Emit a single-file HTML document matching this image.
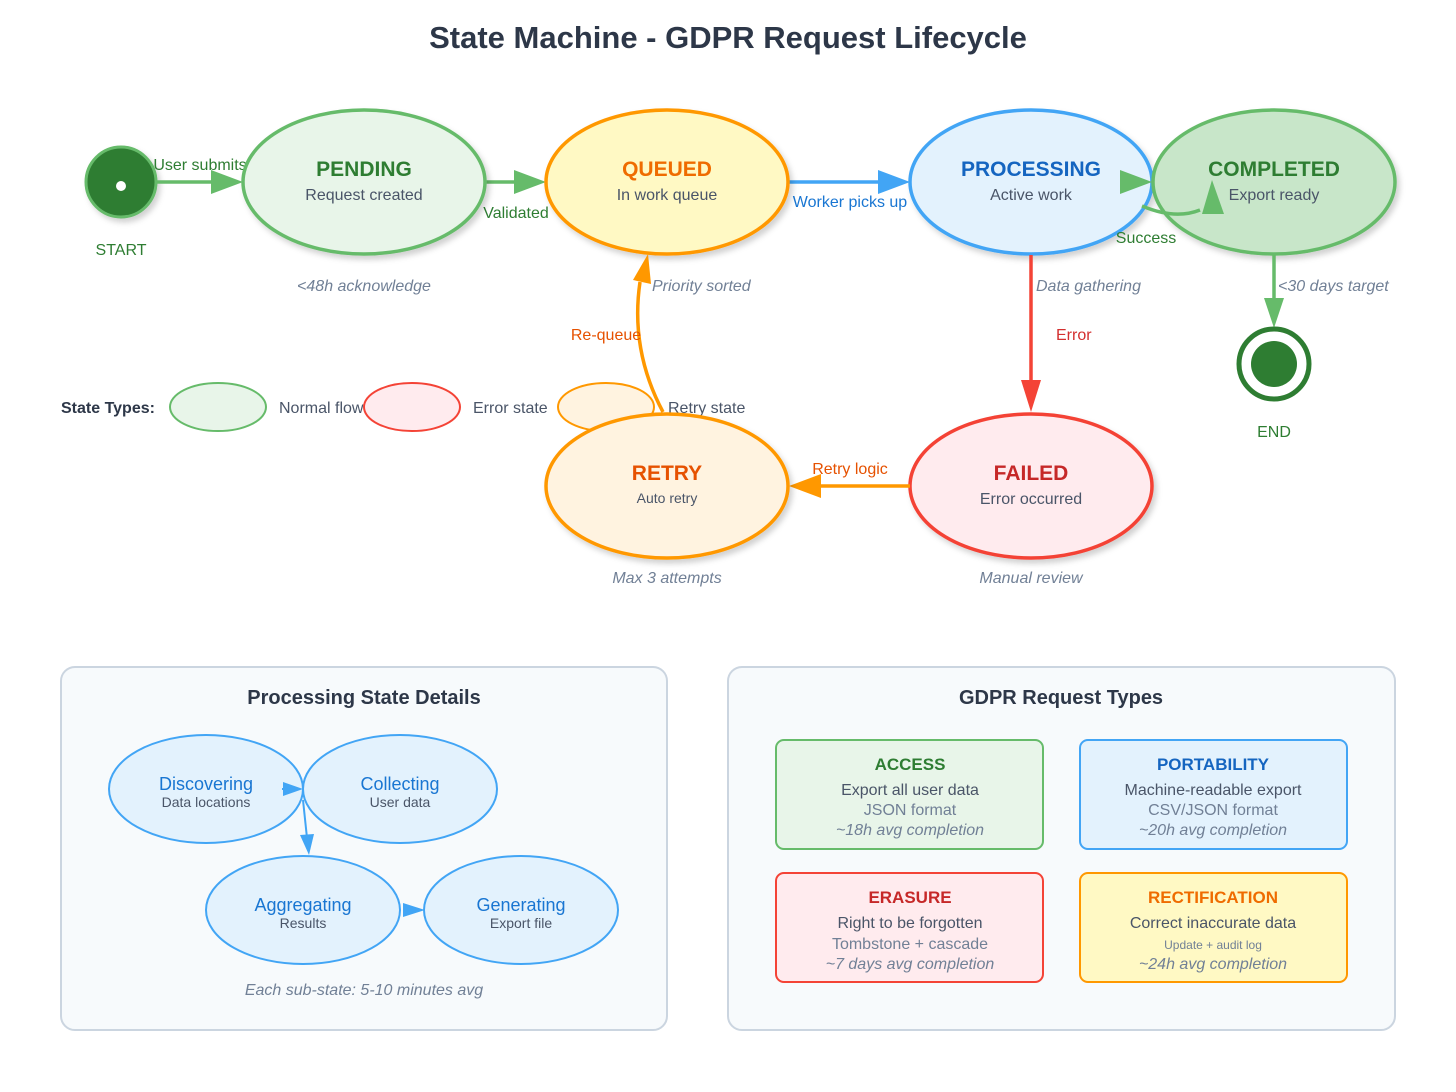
<!DOCTYPE html>
<html><head><meta charset="utf-8"><style>
html,body{margin:0;padding:0;background:#fff}
svg{display:block}
text{font-family:"Liberation Sans",sans-serif}
</style></head><body>
<svg width="1456" height="1092" viewBox="0 0 1456 1092" xmlns="http://www.w3.org/2000/svg">
<defs>
<filter id="sh" x="-20%" y="-20%" width="150%" height="150%"><feDropShadow dx="3" dy="4" stdDeviation="3" flood-color="#000" flood-opacity="0.18"/></filter>
</defs>
<text x="728" y="48" text-anchor="middle" font-size="31" font-weight="bold" fill="#2d3748">State Machine - GDPR Request Lifecycle</text>

<!-- legend -->
<text x="61" y="413" font-size="16" font-weight="bold" fill="#2d3748">State Types:</text>
<ellipse cx="218" cy="407" rx="48" ry="24" fill="#e8f5e9" stroke="#66bb6a" stroke-width="2"/>
<text x="279" y="413" font-size="16" fill="#4a5568">Normal flow</text>
<ellipse cx="412" cy="407" rx="48" ry="24" fill="#ffebee" stroke="#f44336" stroke-width="2"/>
<text x="473" y="413" font-size="16" fill="#4a5568">Error state</text>
<ellipse cx="606" cy="407" rx="48" ry="24" fill="#fff3e0" stroke="#ff9800" stroke-width="2"/>
<text x="668" y="413" font-size="16" fill="#4a5568">Retry state</text>

<!-- start -->
<circle cx="121" cy="182" r="35" fill="#2e7d32" stroke="#66bb6a" stroke-width="3" filter="url(#sh)"/>
<circle cx="121" cy="186" r="5" fill="#fff"/>
<text x="121" y="255" text-anchor="middle" font-size="16" fill="#2e7d32">START</text>
<line x1="157" y1="182" x2="215" y2="182" stroke="#66bb6a" stroke-width="3.5"/>
<polygon points="243,182 211,170 211,194" fill="#66bb6a"/>
<text x="200" y="170" text-anchor="middle" font-size="16" fill="#2e7d32">User submits</text>

<!-- edges top -->
<line x1="485" y1="182" x2="518" y2="182" stroke="#66bb6a" stroke-width="3.5"/>
<polygon points="546,182 514,170 514,194" fill="#66bb6a"/>
<text x="516" y="218" text-anchor="middle" font-size="16" fill="#2e7d32">Validated</text>
<line x1="788" y1="182" x2="882" y2="182" stroke="#42a5f5" stroke-width="3.5"/>
<polygon points="910,182 878,170 878,194" fill="#42a5f5"/>
<text x="850" y="207" text-anchor="middle" font-size="16" fill="#1976d2">Worker picks up</text>

<!-- nodes -->
<ellipse cx="364" cy="182" rx="121" ry="72" fill="#e8f5e9" stroke="#66bb6a" stroke-width="3.5" filter="url(#sh)"/>
<text x="364" y="176" text-anchor="middle" font-size="21" font-weight="bold" fill="#2e7d32">PENDING</text>
<text x="364" y="200" text-anchor="middle" font-size="16" fill="#4a5568">Request created</text>
<ellipse cx="667" cy="182" rx="121" ry="72" fill="#fff9c4" stroke="#ff9800" stroke-width="3.5" filter="url(#sh)"/>
<text x="667" y="176" text-anchor="middle" font-size="21" font-weight="bold" fill="#ef6c00">QUEUED</text>
<text x="667" y="200" text-anchor="middle" font-size="16" fill="#4a5568">In work queue</text>
<ellipse cx="1031" cy="182" rx="121" ry="72" fill="#e3f2fd" stroke="#42a5f5" stroke-width="3.5" filter="url(#sh)"/>
<text x="1031" y="176" text-anchor="middle" font-size="21" font-weight="bold" fill="#1565c0">PROCESSING</text>
<text x="1031" y="200" text-anchor="middle" font-size="16" fill="#4a5568">Active work</text>
<ellipse cx="1274" cy="182" rx="121" ry="72" fill="#c8e6c9" stroke="#66bb6a" stroke-width="3.5" filter="url(#sh)"/>
<text x="1274" y="176" text-anchor="middle" font-size="21" font-weight="bold" fill="#2e7d32">COMPLETED</text>
<text x="1274" y="200" text-anchor="middle" font-size="16" fill="#4a5568">Export ready</text>

<polygon points="1152,182 1120,170 1120,194" fill="#66bb6a"/>
<path d="M1142,206 Q1175,220 1200,210" fill="none" stroke="#66bb6a" stroke-width="3.5"/>
<polygon points="1202,214 1212,180 1224,214" fill="#66bb6a"/>
<text x="1146" y="243" text-anchor="middle" font-size="16" fill="#2e7d32">Success</text>

<line x1="1274" y1="255" x2="1274" y2="305" stroke="#66bb6a" stroke-width="3.5"/>
<polygon points="1274,328 1264,298 1284,298" fill="#66bb6a"/>
<circle cx="1274" cy="364" r="35" fill="#fff" stroke="#2e7d32" stroke-width="5"/>
<circle cx="1274" cy="364" r="23" fill="#2e7d32"/>
<text x="1274" y="437" text-anchor="middle" font-size="16" fill="#2e7d32">END</text>

<g font-size="16" font-style="italic" fill="#718096">
<text x="364" y="291" text-anchor="middle">&lt;48h acknowledge</text>
<text x="652" y="291">Priority sorted</text>
<text x="1036" y="291">Data gathering</text>
<text x="1278" y="291">&lt;30 days target</text>
<text x="667" y="583" text-anchor="middle">Max 3 attempts</text>
<text x="1031" y="583" text-anchor="middle">Manual review</text>
</g>

<line x1="1031" y1="255" x2="1031" y2="385" stroke="#f44336" stroke-width="3.5"/>
<polygon points="1031,412 1021,380 1041,380" fill="#f44336"/>
<text x="1056" y="340" font-size="16" fill="#d32f2f">Error</text>

<ellipse cx="1031" cy="486" rx="121" ry="72" fill="#ffebee" stroke="#f44336" stroke-width="3.5" filter="url(#sh)"/>
<text x="1031" y="480" text-anchor="middle" font-size="21" font-weight="bold" fill="#c62828">FAILED</text>
<text x="1031" y="504" text-anchor="middle" font-size="16" fill="#4a5568">Error occurred</text>

<line x1="910" y1="486" x2="815" y2="486" stroke="#ff9800" stroke-width="3.5"/>
<polygon points="789,486 821,474 821,498" fill="#ff9800"/>
<text x="850" y="474" text-anchor="middle" font-size="16" fill="#e65100">Retry logic</text>

<ellipse cx="667" cy="486" rx="121" ry="72" fill="#fff3e0" stroke="#ff9800" stroke-width="3.5" filter="url(#sh)"/>
<text x="667" y="480" text-anchor="middle" font-size="21" font-weight="bold" fill="#e65100">RETRY</text>
<text x="667" y="503" text-anchor="middle" font-size="14" fill="#4a5568">Auto retry</text>

<path d="M663,412 Q630,350 640,282" fill="none" stroke="#ff9800" stroke-width="3.5"/>
<polygon points="648,254 633,280 651,284" fill="#ff9800"/>
<text x="606" y="340" text-anchor="middle" font-size="16" fill="#e65100">Re-queue</text>

<!-- left panel -->
<rect x="61" y="667" width="606" height="363" rx="14" fill="#f7fafc" stroke="#cbd5e0" stroke-width="2"/>
<text x="364" y="704" text-anchor="middle" font-size="20" font-weight="bold" fill="#2d3748">Processing State Details</text>
<g fill="#e3f2fd" stroke="#42a5f5" stroke-width="2">
<ellipse cx="206" cy="789" rx="97" ry="54"/>
<ellipse cx="400" cy="789" rx="97" ry="54"/>
<ellipse cx="303" cy="910" rx="97" ry="54"/>
<ellipse cx="521" cy="910" rx="97" ry="54"/>
</g>
<line x1="282" y1="789" x2="290" y2="789" stroke="#42a5f5" stroke-width="2"/>
<polygon points="303,789 283,782 283,796" fill="#42a5f5"/>
<line x1="303" y1="800" x2="307" y2="838" stroke="#42a5f5" stroke-width="2"/>
<polygon points="309,855 300,835 314,834" fill="#42a5f5"/>
<polygon points="425,910 403,903 403,917" fill="#42a5f5"/>
<g text-anchor="middle">
<text x="206" y="790" font-size="18" fill="#1976d2">Discovering</text>
<text x="206" y="807" font-size="14" fill="#4a5568">Data locations</text>
<text x="400" y="790" font-size="18" fill="#1976d2">Collecting</text>
<text x="400" y="807" font-size="14" fill="#4a5568">User data</text>
<text x="303" y="911" font-size="18" fill="#1976d2">Aggregating</text>
<text x="303" y="928" font-size="14" fill="#4a5568">Results</text>
<text x="521" y="911" font-size="18" fill="#1976d2">Generating</text>
<text x="521" y="928" font-size="14" fill="#4a5568">Export file</text>
<text x="364" y="995" font-size="16" font-style="italic" fill="#718096">Each sub-state: 5-10 minutes avg</text>
</g>

<!-- right panel -->
<rect x="728" y="667" width="667" height="363" rx="14" fill="#f7fafc" stroke="#cbd5e0" stroke-width="2"/>
<text x="1061" y="704" text-anchor="middle" font-size="20" font-weight="bold" fill="#2d3748">GDPR Request Types</text>
<rect x="776" y="740" width="267" height="109" rx="8" fill="#e8f5e9" stroke="#66bb6a" stroke-width="2"/>
<rect x="1080" y="740" width="267" height="109" rx="8" fill="#e3f2fd" stroke="#42a5f5" stroke-width="2"/>
<rect x="776" y="873" width="267" height="109" rx="8" fill="#ffebee" stroke="#f44336" stroke-width="2"/>
<rect x="1080" y="873" width="267" height="109" rx="8" fill="#fff9c4" stroke="#ff9800" stroke-width="2"/>
<g text-anchor="middle" font-size="16">
<text x="910" y="770" font-size="17" font-weight="bold" fill="#2e7d32">ACCESS</text>
<text x="910" y="795" fill="#4a5568">Export all user data</text>
<text x="910" y="815" fill="#718096">JSON format</text>
<text x="910" y="835" font-style="italic" fill="#718096">~18h avg completion</text>
<text x="1213" y="770" font-size="17" font-weight="bold" fill="#1565c0">PORTABILITY</text>
<text x="1213" y="795" fill="#4a5568">Machine-readable export</text>
<text x="1213" y="815" fill="#718096">CSV/JSON format</text>
<text x="1213" y="835" font-style="italic" fill="#718096">~20h avg completion</text>
<text x="910" y="903" font-size="17" font-weight="bold" fill="#c62828">ERASURE</text>
<text x="910" y="928" fill="#4a5568">Right to be forgotten</text>
<text x="910" y="949" fill="#718096">Tombstone + cascade</text>
<text x="910" y="969" font-style="italic" fill="#718096">~7 days avg completion</text>
<text x="1213" y="903" font-size="17" font-weight="bold" fill="#ef6c00">RECTIFICATION</text>
<text x="1213" y="928" fill="#4a5568">Correct inaccurate data</text>
<text x="1213" y="949" font-size="12" fill="#718096">Update + audit log</text>
<text x="1213" y="969" font-style="italic" fill="#718096">~24h avg completion</text>
</g>
</svg>
</body></html>
